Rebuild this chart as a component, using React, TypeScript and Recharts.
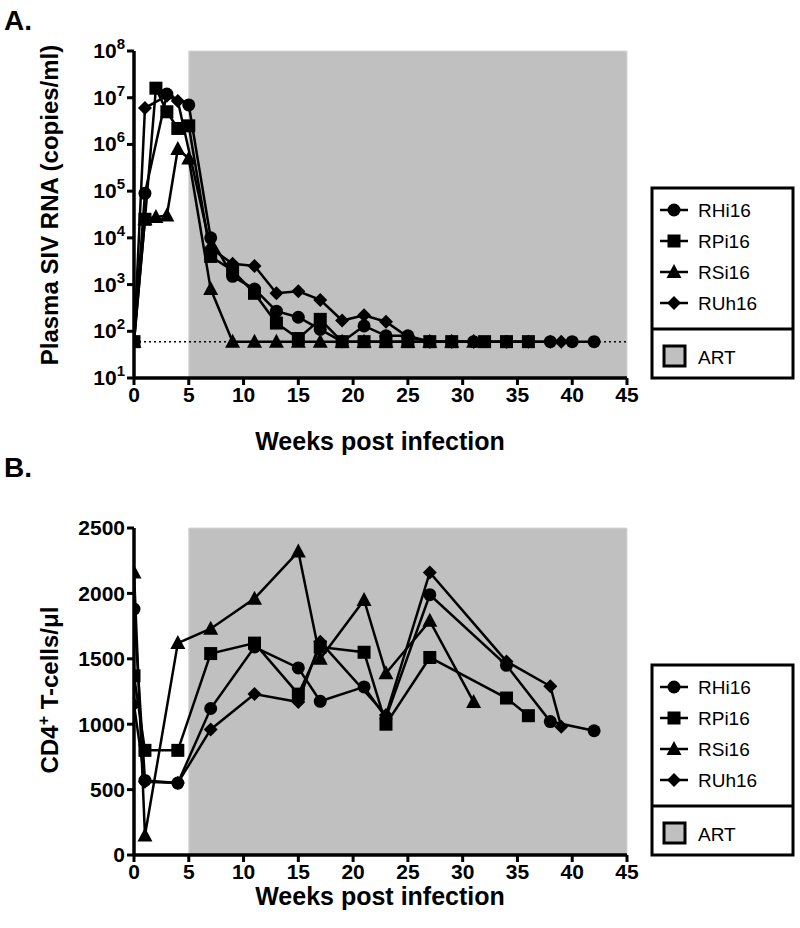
import React from 'react';
import { LineChart, Line, XAxis, YAxis, ReferenceArea, ReferenceLine } from 'recharts';

const FONT = '"Liberation Sans", Arial, Helvetica, sans-serif';

const seriesNames = ['RHi16', 'RPi16', 'RSi16', 'RUh16'];
const weekTicks = [0, 5, 10, 15, 20, 25, 30, 35, 40, 45];
const logTicks = [1e1, 1e2, 1e3, 1e4, 1e5, 1e6, 1e7, 1e8];
const cd4Ticks = [0, 500, 1000, 1500, 2000, 2500];
const lodValue = 60;

// Panel A: plasma SIV RNA (copies/ml)
const rhiWeeksA = [0, 1, 3, 5, 7, 9, 11, 13, 15, 17, 19, 21, 23, 25, 27, 29, 31, 34, 38, 40, 42];
const rhiRnaA = [60, 9e4, 1.2e7, 7e6, 1e4, 1500, 800, 270, 200, 110, 60, 130, 80, 80, 60, 60, 60, 60, 60, 60, 60];
const rpiWeeksA = [0, 1, 2, 3, 4, 5, 7, 9, 11, 13, 15, 17, 19, 21, 23, 25, 27, 29, 32, 34, 36];
const rpiRnaA = [60, 2.5e4, 1.6e7, 5e6, 2.2e6, 2.5e6, 4000, 2000, 650, 150, 70, 180, 60, 60, 60, 60, 60, 60, 60, 60, 60];
const rsiWeeksA = [0, 1, 2, 3, 4, 5, 7, 9, 11, 13, 15, 17, 19, 21, 23, 25, 27, 29, 31];
const rsiRnaA = [60, 2.5e4, 2.8e4, 3e4, 8e5, 5e5, 800, 60, 60, 60, 60, 60, 60, 60, 60, 60, 60, 60, 60];
const ruhWeeksA = [0, 1, 3, 4, 7, 9, 11, 13, 15, 17, 19, 21, 23, 25, 27, 29, 31, 34, 36, 38, 39];
const ruhRnaA = [60, 6e6, 1.1e7, 8.5e6, 6000, 2800, 2500, 650, 720, 470, 170, 220, 160, 75, 60, 60, 60, 60, 60, 60, 60];

// Panel B: CD4+ T-cells/µl
const rhiWeeksB = [0, 1, 4, 7, 11, 15, 17, 21, 23, 27, 34, 38, 42];
const rhiCd4B = [1880, 570, 550, 1120, 1590, 1430, 1175, 1285, 1050, 1990, 1450, 1020, 950];
const rpiWeeksB = [0, 1, 4, 7, 11, 15, 17, 21, 23, 27, 34, 36];
const rpiCd4B = [1370, 800, 800, 1540, 1620, 1230, 1590, 1550, 1000, 1510, 1200, 1065];
const rsiWeeksB = [0, 1, 4, 7, 11, 15, 17, 21, 23, 27, 31];
const rsiCd4B = [2160, 150, 1620, 1730, 1960, 2320, 1500, 1950, 1390, 1790, 1170];
const ruhWeeksB = [0, 1, 4, 7, 11, 15, 17, 23, 27, 34, 38, 39];
const ruhCd4B = [1150, 560, 550, 960, 1230, 1170, 1630, 1070, 2160, 1480, 1290, 980];

const zip = (ws: number[], vs: number[]) => ws.map((w, i) => ({ w, v: vs[i] }));

const panelA = [zip(rhiWeeksA, rhiRnaA), zip(rpiWeeksA, rpiRnaA), zip(rsiWeeksA, rsiRnaA), zip(ruhWeeksA, ruhRnaA)];
const panelB = [zip(rhiWeeksB, rhiCd4B), zip(rpiWeeksB, rpiCd4B), zip(rsiWeeksB, rsiCd4B), zip(ruhWeeksB, ruhCd4B)];
const shapes = ['circle', 'square', 'triangle', 'diamond'];

function shapeEl(shape: string, cx: number, cy: number, key?: any) {
  if (shape === 'circle') return <circle key={key} cx={cx} cy={cy} r={6.5} fill="#000" />;
  if (shape === 'square') return <rect key={key} x={cx - 6.5} y={cy - 6.5} width={13} height={13} fill="#000" />;
  if (shape === 'triangle')
    return <polygon key={key} points={`${cx},${cy - 8} ${cx - 7.5},${cy + 6} ${cx + 7.5},${cy + 6}`} fill="#000" />;
  return <polygon key={key} points={`${cx},${cy - 7} ${cx + 7},${cy} ${cx},${cy + 7} ${cx - 7},${cy}`} fill="#000" />;
}

const makeDot = (shape: string) => (props: any) => {
  const { cx, cy, index } = props;
  if (cx == null || cy == null) return <g key={`e${index}`} />;
  return shapeEl(shape, cx, cy, `d${index}`);
};

const LogTick = (props: any) => {
  const { x, y, payload } = props;
  const e = Math.round(Math.log10(payload.value));
  return (
    <text x={x} y={y + 7} textAnchor="end" fontFamily={FONT} fontWeight={700} fontSize={21} fill="#000">
      <tspan>10</tspan>
      <tspan dy={-9} fontSize={15}>{e}</tspan>
    </text>
  );
};

const axisLine = { stroke: '#000', strokeWidth: 3.5 };
const tickLine = { stroke: '#000', strokeWidth: 3 };
const tickStyle = { fill: '#000', fontSize: 21, fontWeight: 700, fontFamily: FONT };

function Panel({ series, log }: { series: { w: number; v: number }[][]; log: boolean }) {
  return (
    <LineChart width={800} height={460} margin={{ top: 51, right: 173, bottom: 52, left: 0 }}>
      <XAxis
        type="number"
        dataKey="w"
        domain={[0, 45]}
        ticks={weekTicks}
        interval={0}
        allowDataOverflow
        height={30}
        axisLine={axisLine}
        tickLine={tickLine}
        tickSize={7}
        tick={tickStyle}
      />
      {log ? (
        <YAxis
          type="number"
          scale="log"
          domain={[10, 1e8]}
          ticks={logTicks}
          interval={0}
          allowDataOverflow
          width={134}
          axisLine={axisLine}
          tickLine={tickLine}
          tickSize={7}
          tick={<LogTick />}
        />
      ) : (
        <YAxis
          type="number"
          domain={[0, 2500]}
          ticks={cd4Ticks}
          interval={0}
          allowDataOverflow
          width={134}
          axisLine={axisLine}
          tickLine={tickLine}
          tickSize={7}
          tick={tickStyle}
        />
      )}
      <ReferenceArea
        x1={5}
        x2={45}
        y1={log ? 10 : 0}
        y2={log ? 1e8 : 2500}
        fill="#c0c0c0"
        fillOpacity={1}
        stroke="#d6d6d6"
        strokeWidth={1}
      />
      {log && <ReferenceLine y={lodValue} stroke="#000" strokeWidth={1.5} strokeDasharray="2 3" />}
      {series.map((d, i) => (
        <Line
          key={seriesNames[i]}
          data={d}
          dataKey="v"
          type="linear"
          stroke="#000"
          strokeWidth={2.5}
          dot={makeDot(shapes[i])}
          activeDot={false}
          isAnimationActive={false}
        />
      ))}
    </LineChart>
  );
}

function LegendBox({ top }: { top: number }) {
  const left = 652;
  const w = 141;
  const h = 190;
  return (
    <g>
      <rect x={left} y={top} width={w} height={h} fill="#fff" stroke="#000" strokeWidth={3} />
      {seriesNames.map((n, i) => {
        const y = top + 22 + 31 * i;
        return (
          <g key={n}>
            <line x1={660} x2={688} y1={y} y2={y} stroke="#000" strokeWidth={2.5} />
            {shapeEl(shapes[i], 674, y)}
            <text x={698} y={y + 7} fontFamily={FONT} fontSize={19} fill="#000">
              {n}
            </text>
          </g>
        );
      })}
      <line x1={left} x2={left + w} y1={top + 141} y2={top + 141} stroke="#000" strokeWidth={3} />
      <rect x={664} y={top + 158} width={21} height={20} fill="#c0c0c0" stroke="#000" strokeWidth={3} />
      <text x={698} y={top + 176} fontFamily={FONT} fontSize={19} fill="#000">
        ART
      </text>
    </g>
  );
}

export default function App() {
  return (
    <div style={{ position: 'absolute', left: 0, top: 0, width: 800, height: 928, background: '#fff' }}>
      <div style={{ position: 'absolute', left: 0, top: 0 }}>
        <Panel series={panelA} log={true} />
      </div>
      <div style={{ position: 'absolute', left: 0, top: 477 }}>
        <Panel series={panelB} log={false} />
      </div>
      <svg width={800} height={928} style={{ position: 'absolute', left: 0, top: 0, pointerEvents: 'none' }}>
        <text x={4} y={30} fontFamily={FONT} fontWeight={700} fontSize={28} fill="#000">A.</text>
        <text x={4} y={477} fontFamily={FONT} fontWeight={700} fontSize={28} fill="#000">B.</text>
        <text x={380} y={450} textAnchor="middle" fontFamily={FONT} fontWeight={700} fontSize={25} fill="#000">
          Weeks post infection
        </text>
        <text x={380} y={905} textAnchor="middle" fontFamily={FONT} fontWeight={700} fontSize={25} fill="#000">
          Weeks post infection
        </text>
        <text
          transform="translate(58,205) rotate(-90)"
          textAnchor="middle"
          fontFamily={FONT}
          fontWeight={700}
          fontSize={24}
          fill="#000"
        >
          Plasma SIV RNA (copies/ml)
        </text>
        <text
          transform="translate(58,690) rotate(-90)"
          textAnchor="middle"
          fontFamily={FONT}
          fontWeight={700}
          fontSize={24}
          fill="#000"
        >
          <tspan>CD4</tspan>
          <tspan dy={-9} fontSize={16}>+</tspan>
          <tspan dy={9}> T-cells/μl</tspan>
        </text>
        <LegendBox top={188} />
        <LegendBox top={665} />
      </svg>
    </div>
  );
}
